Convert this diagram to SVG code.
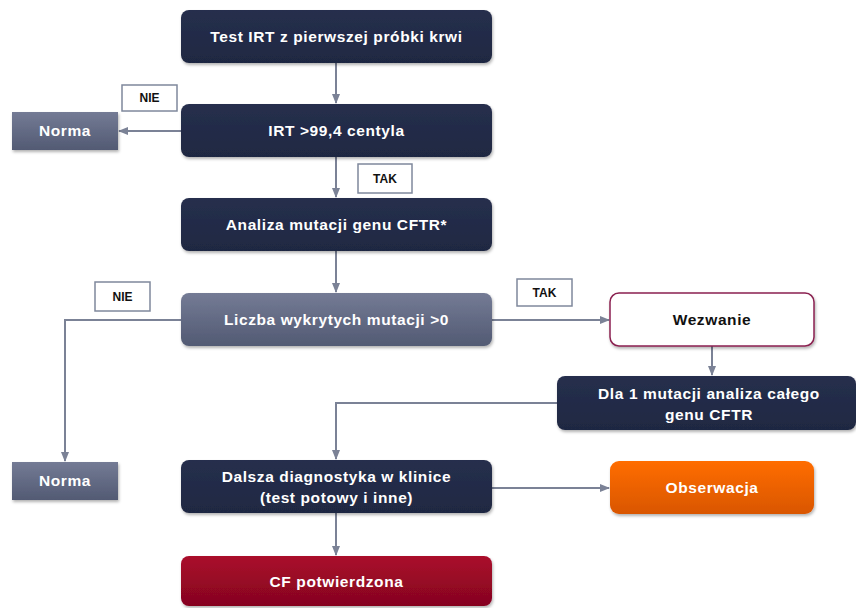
<svg xmlns="http://www.w3.org/2000/svg" width="856" height="608" viewBox="0 0 856 608">
<defs>
<linearGradient id="gNavy" x1="0" y1="0" x2="0" y2="1"><stop offset="0" stop-color="#262f4d"/><stop offset="1" stop-color="#1f2842"/></linearGradient>
<linearGradient id="gGray" x1="0" y1="0" x2="0" y2="1"><stop offset="0" stop-color="#747b95"/><stop offset="1" stop-color="#525a73"/></linearGradient>
<linearGradient id="gOrange" x1="0" y1="0" x2="0" y2="1"><stop offset="0" stop-color="#ff6d05"/><stop offset="1" stop-color="#d95600"/></linearGradient>
<linearGradient id="gRed" x1="0" y1="0" x2="0" y2="1"><stop offset="0" stop-color="#aa0a2c"/><stop offset="1" stop-color="#85051f"/></linearGradient>
<filter id="sh" x="-10%" y="-20%" width="120%" height="150%"><feDropShadow dx="1" dy="2" stdDeviation="1.5" flood-color="#000" flood-opacity="0.3"/></filter>
<marker id="ar" viewBox="0 0 10 10" refX="9" refY="5" markerWidth="5" markerHeight="5" orient="auto"><path d="M0,1 L10,5 L0,9 z" fill="#7b8296"/></marker>
<style>
.t{font-family:"Liberation Sans",Arial,sans-serif;font-weight:bold;font-size:15.5px;letter-spacing:0.6px;fill:#fff;text-anchor:middle}
.dk{fill:#111}
.lb{font-family:"Liberation Sans",Arial,sans-serif;font-weight:bold;font-size:12px;fill:#111;text-anchor:middle}
.lbox{fill:#fff;stroke:#7f889c;stroke-width:1.5}
.c{fill:none;stroke:#7b8296;stroke-width:2;marker-end:url(#ar)}
</style>
</defs>
<g id="connectors">
<path class="c" d="M336,63 V103"/>
<path class="c" d="M181,131 H119"/>
<path class="c" d="M336,157 V197"/>
<path class="c" d="M336,251 V292"/>
<path class="c" d="M181,320 H65 V461"/>
<path class="c" d="M492,320 H609"/>
<path class="c" d="M712,346 V375"/>
<path class="c" d="M557,403 H336 V459"/>
<path class="c" d="M492,488 H609"/>
<path class="c" d="M336,513 V555"/>
</g>
<g id="n1"><rect x="181" y="10" width="311" height="53" rx="8" fill="url(#gNavy)" filter="url(#sh)"/><text class="t" x="336.5" y="42">Test IRT z pierwszej próbki krwi</text></g>
<g id="n2"><rect x="181" y="104" width="311" height="53" rx="8" fill="url(#gNavy)" filter="url(#sh)"/><text class="t" x="336.5" y="136">IRT &gt;99,4 centyla</text></g>
<g id="norma1"><rect x="12" y="112" width="106" height="38" fill="url(#gGray)" filter="url(#sh)"/><text class="t" x="65" y="136">Norma</text></g>
<g id="nie1"><rect class="lbox" x="122" y="85" width="55" height="26"/><text class="lb" x="149.5" y="102">NIE</text></g>
<g id="tak1"><rect class="lbox" x="358" y="164" width="54" height="29"/><text class="lb" x="385" y="183">TAK</text></g>
<g id="n3"><rect x="181" y="198" width="311" height="53" rx="8" fill="url(#gNavy)" filter="url(#sh)"/><text class="t" x="336.5" y="230">Analiza mutacji genu CFTR*</text></g>
<g id="n4"><rect x="181" y="293" width="311" height="53" rx="8" fill="url(#gGray)" filter="url(#sh)"/><text class="t" x="336.5" y="325">Liczba wykrytych  mutacji &gt;0</text></g>
<g id="nie2"><rect class="lbox" x="95" y="282" width="55" height="29"/><text class="lb" x="122.5" y="301">NIE</text></g>
<g id="tak2"><rect class="lbox" x="517" y="279" width="55" height="27"/><text class="lb" x="544.5" y="297">TAK</text></g>
<g id="wezwanie"><rect x="610" y="293" width="204" height="53" rx="9" fill="#fff" stroke="#8a2050" stroke-width="1.5" filter="url(#sh)"/><text class="t dk" x="712" y="325">Wezwanie</text></g>
<g id="dla"><rect x="557" y="376" width="299" height="54" rx="8" fill="url(#gNavy)" filter="url(#sh)"/><text class="t" x="709" y="399">Dla 1 mutacji analiza całego</text><text class="t" x="709" y="420">genu CFTR</text></g>
<g id="norma2"><rect x="12" y="462" width="106" height="38" fill="url(#gGray)" filter="url(#sh)"/><text class="t" x="65" y="486">Norma</text></g>
<g id="dalsza"><rect x="181" y="460" width="311" height="53" rx="8" fill="url(#gNavy)" filter="url(#sh)"/><text class="t" x="336.5" y="482">Dalsza diagnostyka w klinice</text><text class="t" x="336.5" y="503">(test potowy i inne)</text></g>
<g id="obserwacja"><rect x="610" y="461" width="204" height="53" rx="9" fill="url(#gOrange)" filter="url(#sh)"/><text class="t" x="712" y="493">Obserwacja</text></g>
<g id="cf"><rect x="181" y="556" width="311" height="50" rx="8" fill="url(#gRed)" filter="url(#sh)"/><text class="t" x="336.5" y="587">CF potwierdzona</text></g>
</svg>
